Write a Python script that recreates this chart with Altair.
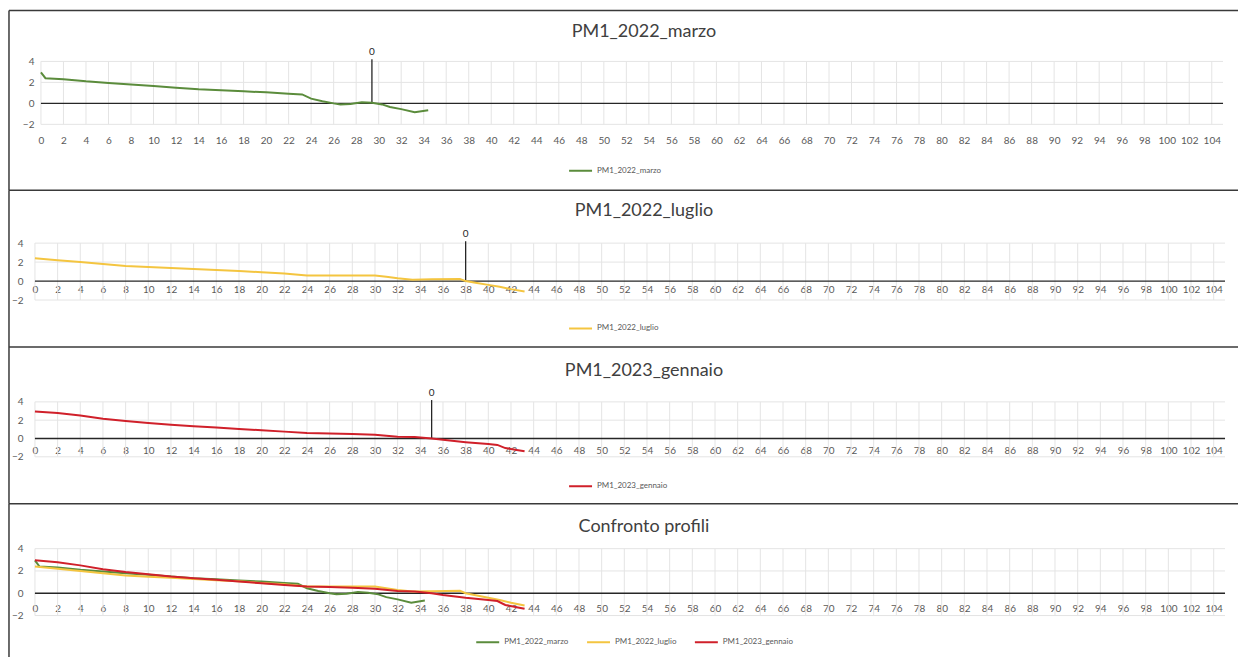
import altair as alt
import pandas as pd

# ---------------- data ----------------
marzo_x = [0, 0.4, 2, 4, 6, 8, 10, 12, 14, 16, 18, 20, 22, 23.2, 24, 25, 26, 26.6, 27.5, 28.5, 29.4, 30.3, 31, 32, 33.2, 34.4]
marzo_y = [2.95, 2.4, 2.3, 2.1, 1.95, 1.8, 1.65, 1.5, 1.35, 1.25, 1.15, 1.05, 0.92, 0.85, 0.45, 0.2, 0.0, -0.1, -0.05, 0.1, 0.05, -0.1, -0.35, -0.55, -0.85, -0.65]

luglio_x = [0, 2, 4, 6, 8, 10, 12, 14, 16, 18, 20, 22, 24, 26, 28, 30, 31, 32, 33.3, 35, 37.5, 38, 39, 40, 41, 42, 43.2]
luglio_y = [2.4, 2.2, 2.0, 1.8, 1.6, 1.48, 1.38, 1.27, 1.17, 1.07, 0.92, 0.8, 0.6, 0.6, 0.6, 0.6, 0.45, 0.3, 0.15, 0.18, 0.22, 0.0, -0.2, -0.4, -0.6, -0.85, -1.1]

gennaio_x = [0, 2, 4, 6, 8, 10, 12, 14, 16, 18, 20, 22, 24, 26, 28, 30, 32, 33.5, 35, 36, 38, 40, 40.8, 41.5, 42.5, 43.2]
gennaio_y = [2.95, 2.78, 2.5, 2.15, 1.9, 1.7, 1.5, 1.35, 1.2, 1.05, 0.9, 0.75, 0.6, 0.55, 0.5, 0.4, 0.2, 0.15, 0.0, -0.15, -0.4, -0.6, -0.7, -1.05, -1.25, -1.4]

series_names = ["PM1_2022_marzo", "PM1_2022_luglio", "PM1_2023_gennaio"]
series_colors = ["#5b8c3c", "#f4c540", "#d0202a"]
zero_cross = [29.4, 38.0, 35.0]
panel_titles = ["PM1_2022_marzo", "PM1_2022_luglio", "PM1_2023_gennaio", "Confronto profili"]
x_ticks = list(range(0, 105, 2))
y_ticks = [-2, 0, 2, 4]
x_max = 105

series_data = {
    "PM1_2022_marzo": (marzo_x, marzo_y),
    "PM1_2022_luglio": (luglio_x, luglio_y),
    "PM1_2023_gennaio": (gennaio_x, gennaio_y),
}

FONT = "Lato"
W = 1231
LABEL_COLOR = "#595959"


def series_df(names):
    frames = []
    for n in names:
        xs, ys = series_data[n]
        frames.append(pd.DataFrame({"x": xs, "y": ys, "serie": n}))
    return pd.concat(frames, ignore_index=True)


def panel(title, names, height, xr, yr, title_y, xlab_y, ylab_x, leg_x, leg_y, zero=None):
    xs = alt.Scale(domain=[0, x_max], range=xr, nice=False, zero=False)
    ys = alt.Scale(domain=[-2, 4], range=yr, nice=False, zero=False)
    x_axis = alt.Axis(values=x_ticks, grid=False, domain=False, ticks=False, title=None,
                      labelFont=FONT, labelFontSize=10, labelColor=LABEL_COLOR,
                      labelBaseline="middle", labelPadding=0, labelOverlap=False,
                      labelFlush=False, offset=xlab_y - height)
    y_axis = alt.Axis(values=y_ticks, grid=False, domain=False, ticks=False, title=None,
                      labelFont=FONT, labelFontSize=10, labelColor=LABEL_COLOR,
                      labelPadding=0, offset=-ylab_x)
    X = lambda f: alt.X(f, scale=xs, axis=x_axis)
    Y = lambda f: alt.Y(f, scale=ys, axis=y_axis)

    vgrid = alt.Chart(pd.DataFrame({"x": x_ticks, "y0": -2, "y1": 4})).mark_rule(
        color="#e4e4e4", strokeWidth=1).encode(x=X("x:Q"), y=Y("y0:Q"), y2="y1:Q")
    hgrid = alt.Chart(pd.DataFrame({"y": [v for v in y_ticks if v != 0], "x0": 0, "x1": x_max})).mark_rule(
        color="#e4e4e4", strokeWidth=1).encode(y=Y("y:Q"), x=X("x0:Q"), x2="x1:Q")
    zline = alt.Chart(pd.DataFrame({"y": [0], "x0": [0], "x1": [x_max]})).mark_rule(
        color="#262626", strokeWidth=1.3).encode(y=Y("y:Q"), x=X("x0:Q"), x2="x1:Q")

    lines = alt.Chart(series_df(names)).mark_line(strokeWidth=2, clip=False).encode(
        x=X("x:Q"), y=Y("y:Q"),
        color=alt.Color("serie:N",
                        scale=alt.Scale(domain=names,
                                        range=[series_colors[series_names.index(n)] for n in names]),
                        legend=alt.Legend(orient="none", legendX=leg_x, legendY=leg_y,
                                          direction="horizontal", title=None,
                                          symbolType="stroke", symbolStrokeWidth=2,
                                          symbolSize=529, labelFont=FONT, labelFontSize=8,
                                          labelColor=LABEL_COLOR, columnPadding=14,
                                          labelOffset=4)),
    )

    layers = [vgrid, hgrid, zline]
    if zero is not None:
        zdf = pd.DataFrame({"x": [zero], "y0": [0], "y1": [4.2], "lab": ["0"]})
        layers.append(alt.Chart(zdf).mark_rule(color="#262626", strokeWidth=1.3).encode(
            x=X("x:Q"), y=Y("y0:Q"), y2="y1:Q"))
        layers.append(alt.Chart(zdf).mark_text(font=FONT, fontSize=10, color="#262626",
                                              baseline="bottom", dy=-2).encode(
            x=X("x:Q"), y=Y("y1:Q"), text="lab:N"))
    layers.append(lines)

    frame = pd.DataFrame({"t": [title]})
    layers.append(alt.Chart(frame).mark_text(font=FONT, fontSize=18, color="#404040",
                                             baseline="middle").encode(
        x=alt.value(636), y=alt.value(title_y), text="t:N"))
    layers.append(alt.Chart(frame).mark_rule(color="#3a3a3a", strokeWidth=1.5).encode(
        x=alt.value(0), x2=alt.value(W), y=alt.value(0)))
    layers.append(alt.Chart(frame).mark_rule(color="#3a3a3a", strokeWidth=1.5).encode(
        x=alt.value(0), y=alt.value(0), y2=alt.value(height)))

    return alt.layer(*layers).properties(width=W, height=height)


p1 = panel(panel_titles[0], [series_names[0]], 180, [32, 1216], [114, 51], 22, 130, 25, 560, 148, zero_cross[0])
p2 = panel(panel_titles[1], [series_names[1]], 157, [26, 1218], [110, 53], 21, 99, 14, 560, 126, zero_cross[1])
p3 = panel(panel_titles[2], [series_names[2]], 157, [26, 1218], [110, 55], 24, 104, 14, 560, 127, zero_cross[2])
p4 = panel(panel_titles[3], series_names, 154, [26, 1218], [112, 45], 23, 105, 14, 467, 126)

chart = alt.vconcat(p1, p2, p3, p4, spacing=0, bounds="flush").properties(
    padding={"left": 8, "top": 9, "right": 0, "bottom": 0}
).configure_view(stroke=None).resolve_scale(color="independent", x="independent", y="independent")

chart.save("out.html", embed_options={"renderer": "svg", "actions": False})
